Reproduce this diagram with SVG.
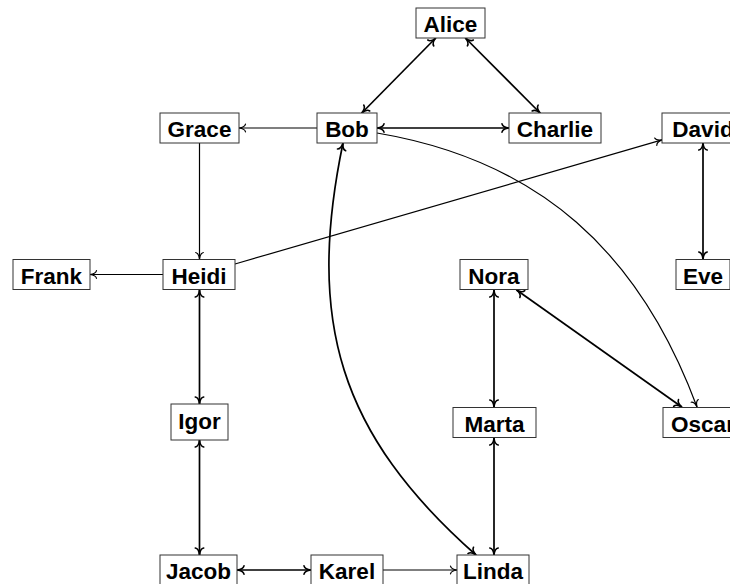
<svg xmlns="http://www.w3.org/2000/svg" width="730" height="584" viewBox="0 0 730 584">
<style>
.box{fill:#fff;stroke:#333;stroke-width:1}
.lbl{font-family:"Liberation Sans",Arial,sans-serif;font-weight:bold;font-size:22.5px;fill:#000;text-anchor:middle}
.thin{fill:none;stroke:#000;stroke-width:1.2}
.thick{fill:none;stroke:#000;stroke-width:1.7}
</style>
<defs>
<marker id="at" viewBox="-8 -5 10 10" refX="0" refY="0" markerWidth="10" markerHeight="10" markerUnits="userSpaceOnUse" orient="auto-start-reverse">
<path d="M-6.5,-3.8 C-6,-1.5 -2.5,-0.3 0,0 C-2.5,0.3 -6,1.5 -6.5,3.8" fill="none" stroke="#000" stroke-width="1.2" stroke-linecap="round" stroke-linejoin="round"/>
</marker>
<marker id="aT" viewBox="-9 -6 12 12" refX="0" refY="0" markerWidth="12" markerHeight="12" markerUnits="userSpaceOnUse" orient="auto-start-reverse">
<path d="M-7,-4.2 C-6.5,-1.7 -2.8,-0.3 0,0 C-2.8,0.3 -6.5,1.7 -7,4.2" fill="none" stroke="#000" stroke-width="1.6" stroke-linecap="round" stroke-linejoin="round"/>
</marker>
</defs>
<g id="connectors">
<path class="thick" d="M435.7,38 L361.8,113" marker-start="url(#aT)" marker-end="url(#aT)"/>
<path class="thick" d="M465.4,38 L540.1,113" marker-start="url(#aT)" marker-end="url(#aT)"/>
<path class="thick" d="M377,128 L509,128" marker-start="url(#aT)" marker-end="url(#aT)"/>
<path class="thin" d="M317,128 L239,128" marker-end="url(#at)"/>
<path class="thin" d="M199.5,143 L199.5,259" marker-end="url(#at)"/>
<path class="thin" d="M163,274.5 L90,274.5" marker-end="url(#at)"/>
<path class="thin" d="M235,264 L662,139.9" marker-end="url(#at)"/>
<path class="thick" d="M703,143 L703,259" marker-start="url(#aT)" marker-end="url(#aT)"/>
<path class="thick" d="M199.5,290 L199.5,404" marker-start="url(#aT)" marker-end="url(#aT)"/>
<path class="thick" d="M199.5,440 L199.5,555" marker-start="url(#aT)" marker-end="url(#aT)"/>
<path class="thick" d="M237,570 L311,570" marker-start="url(#aT)" marker-end="url(#aT)"/>
<path class="thin" d="M383,570 L457,570" marker-end="url(#at)"/>
<path class="thick" d="M494,438 L494,555" marker-start="url(#aT)" marker-end="url(#aT)"/>
<path class="thick" d="M494,290 L494,407" marker-start="url(#aT)" marker-end="url(#aT)"/>
<path class="thick" d="M516.6,290 L681.8,407" marker-start="url(#aT)" marker-end="url(#aT)"/>
<path class="thin" d="M377,133 C539.7,160.5 639.5,252.3 697,407" marker-end="url(#at)"/>
<path class="thick" d="M343,143 C306,321 339,434 476,555" marker-start="url(#aT)" marker-end="url(#aT)"/>
</g>
<g id="Alice"><rect class="box" x="416" y="8" width="69" height="30"/><text class="lbl" x="450.5" y="32">Alice</text></g>
<g id="Bob"><rect class="box" x="317" y="113" width="60" height="30"/><text class="lbl" x="347" y="137">Bob</text></g>
<g id="Charlie"><rect class="box" x="509" y="113" width="92" height="30"/><text class="lbl" x="555" y="137">Charlie</text></g>
<g id="Grace"><rect class="box" x="160" y="113" width="79" height="30"/><text class="lbl" x="199.5" y="137">Grace</text></g>
<g id="David"><rect class="box" x="662" y="113" width="82" height="30"/><text class="lbl" x="703" y="137">David</text></g>
<g id="Frank"><rect class="box" x="13" y="259.5" width="77" height="30"/><text class="lbl" x="51.5" y="283.5">Frank</text></g>
<g id="Heidi"><rect class="box" x="163" y="259.5" width="72" height="30"/><text class="lbl" x="199" y="283.5">Heidi</text></g>
<g id="Nora"><rect class="box" x="460" y="259.5" width="68" height="30"/><text class="lbl" x="494" y="283.5">Nora</text></g>
<g id="Eve"><rect class="box" x="676" y="259.5" width="54" height="30"/><text class="lbl" x="703" y="283.5">Eve</text></g>
<g id="Igor"><rect class="box" x="171" y="404" width="57" height="36"/><text class="lbl" x="199.5" y="428.5">Igor</text></g>
<g id="Marta"><rect class="box" x="453" y="407.5" width="83" height="30"/><text class="lbl" x="494.5" y="431.5">Marta</text></g>
<g id="Oscar"><rect class="box" x="663" y="407.5" width="80" height="30"/><text class="lbl" x="703" y="431.5">Oscar</text></g>
<g id="Jacob"><rect class="box" x="160" y="555" width="77" height="30"/><text class="lbl" x="198.5" y="579">Jacob</text></g>
<g id="Karel"><rect class="box" x="311" y="555" width="72" height="30"/><text class="lbl" x="347" y="579">Karel</text></g>
<g id="Linda"><rect class="box" x="457" y="555" width="72" height="30"/><text class="lbl" x="493" y="579">Linda</text></g>
</svg>
